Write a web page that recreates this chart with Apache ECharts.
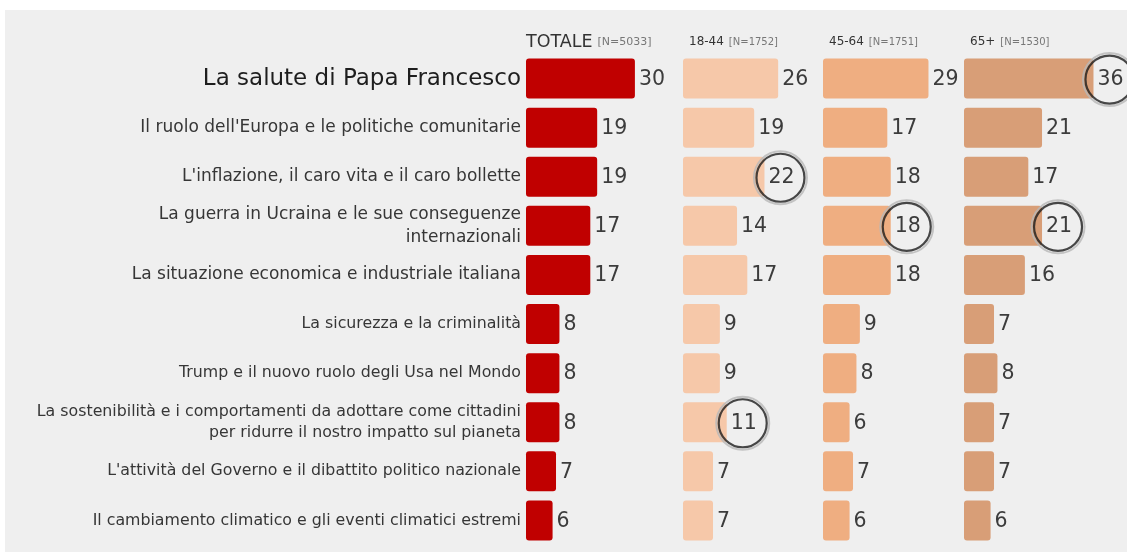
<!DOCTYPE html>
<html>
<head>
<meta charset="utf-8">
<script src="https://cdn.jsdelivr.net/npm/echarts@6/dist/echarts.min.js"></script>
<style>
  html, body { margin: 0; padding: 0; background: #fff; }
  #chart { width: 1127px; height: 552px; }
</style>
</head>
<body>
<div id="chart"></div>
<script>
// topics, in the order shown
var categories = [
  'La salute di Papa Francesco',
  "Il ruolo dell'Europa e le politiche comunitarie",
  "L'inflazione, il caro vita e il caro bollette",
  'La guerra in Ucraina e le sue conseguenze\ninternazionali',
  'La situazione economica e industriale italiana',
  'La sicurezza e la criminalità',
  'Trump e il nuovo ruolo degli Usa nel Mondo',
  'La sostenibilità e i comportamenti da adottare come cittadini\nper ridurre il nostro impatto sul pianeta',
  "L'attività del Governo e il dibattito politico nazionale",
  'Il cambiamento climatico e gli eventi climatici estremi'
];

var panelNames = ['TOTALE', '18-44', '45-64', '65+'];
var panelN = ['[N=5033]', '[N=1752]', '[N=1751]', '[N=1530]'];

var totale   = [30, 19, 19, 17, 17, 8, 8, 8, 7, 6];
var eta1844  = [26, 19, 22, 14, 17, 9, 9, 11, 7, 7];
var eta4564  = [29, 17, 18, 18, 18, 9, 8, 6, 7, 6];
var eta65    = [36, 21, 17, 21, 16, 7, 8, 7, 7, 6];

// circled values (row index) per panel
var circled = [[], [2, 7], [3], [0, 3]];

var values = [totale, eta1844, eta4564, eta65];
var colors = ['#c00000', '#f6c8a9', '#efae81', '#d89e77'];
var barStart = [526, 683, 823, 964];
var axisMin = -1.75, axisMax = 38.25;   // bars start at the axis minimum
var labelFont = '20.5px "DejaVu Sans"';

var chart = echarts.init(document.getElementById('chart'));

var grids = [], xAxes = [], yAxes = [], series = [], titles = [];

function barRenderer(color) {
  return function (params, api) {
    var v = api.value(0), cat = api.value(1);
    var start = api.coord([axisMin, cat]);
    var end = api.coord([v, cat]);
    var h = 40;
    return {
      type: 'group',
      children: [{
        type: 'rect',
        shape: { x: start[0], y: end[1] - h / 2, width: end[0] - start[0], height: h, r: 3 },
        style: { fill: color }
      }, {
        type: 'text',
        style: {
          text: String(v), x: end[0] + 4, y: end[1] + 1,
          align: 'left', verticalAlign: 'middle',
          textAlign: 'left', textVerticalAlign: 'middle',
          fill: '#3c3c3c', font: labelFont
        }
      }]
    };
  };
}

for (var i = 0; i < 4; i++) {
  grids.push({ left: barStart[i], top: 54, width: 3.43 * (axisMax - axisMin), height: 491 });
  xAxes.push({ type: 'value', gridIndex: i, min: axisMin, max: axisMax, show: false });
  yAxes.push({
    type: 'category', gridIndex: i, data: categories, inverse: true,
    axisLine: { show: false }, axisTick: { show: false }, splitLine: { show: false },
    axisLabel: {
      show: i === 0,
      margin: 5,
      align: 'right',
      color: '#333',
      formatter: function (v, idx) {
        var st = idx === 0 ? 'a' : (idx < 5 ? 'b' : 'c');
        return v.split('\n').map(function (l) { return '{' + st + '|' + l + '}'; }).join('\n');
      },
      rich: {
        a: { fontSize: 23, fontFamily: 'DejaVu Sans', color: '#1e1e1e', lineHeight: 27 },
        b: { fontSize: 17, fontFamily: 'DejaVu Sans', color: '#363636', lineHeight: 23 },
        c: { fontSize: 15.8, fontFamily: 'DejaVu Sans', color: '#363636', lineHeight: 21 }
      }
    }
  });
  series.push({
    type: 'custom', xAxisIndex: i, yAxisIndex: i, clip: false, silent: true,
    data: values[i].map(function (v, idx) { return [v, idx]; }),
    encode: { x: 0, y: 1 },
    renderItem: barRenderer(colors[i])
  });
  var pts = circled[i].map(function (idx) { return [values[i][idx], idx]; });
  series.push({
    type: 'scatter', xAxisIndex: i, yAxisIndex: i, data: pts,
    symbolSize: 53, symbolOffset: [16, 1], z: 5, silent: true,
    itemStyle: { color: 'rgba(0,0,0,0)', borderColor: '#b8b8b8', borderWidth: 2 }
  });
  series.push({
    type: 'scatter', xAxisIndex: i, yAxisIndex: i, data: pts,
    symbolSize: 48, symbolOffset: [16, 1], z: 6, silent: true,
    itemStyle: { color: 'rgba(0,0,0,0)', borderColor: '#1c1c1c', borderWidth: 2.2 }
  });
  titles.push({
    text: '{h|' + panelNames[i] + '} {n|' + panelN[i] + '}',
    left: i === 0 ? 521 : barStart[i] + 1,
    top: 28,
    textStyle: {
      fontWeight: 'normal',
      rich: {
        h: { fontSize: i === 0 ? 17.5 : 12, color: '#333', fontFamily: 'DejaVu Sans', fontWeight: 'normal' },
        n: { fontSize: i === 0 ? 11 : 10, color: '#777', fontFamily: 'DejaVu Sans', fontWeight: 'normal' }
      }
    }
  });
}

chart.setOption({
  backgroundColor: '#ffffff',
  animation: false,
  graphic: [{
    type: 'rect', z: -10, silent: true,
    shape: { x: 5, y: 10, width: 1122, height: 542 },
    style: { fill: '#efefef' }
  }],
  title: titles,
  grid: grids,
  xAxis: xAxes,
  yAxis: yAxes,
  series: series
});
</script>
</body>
</html>
